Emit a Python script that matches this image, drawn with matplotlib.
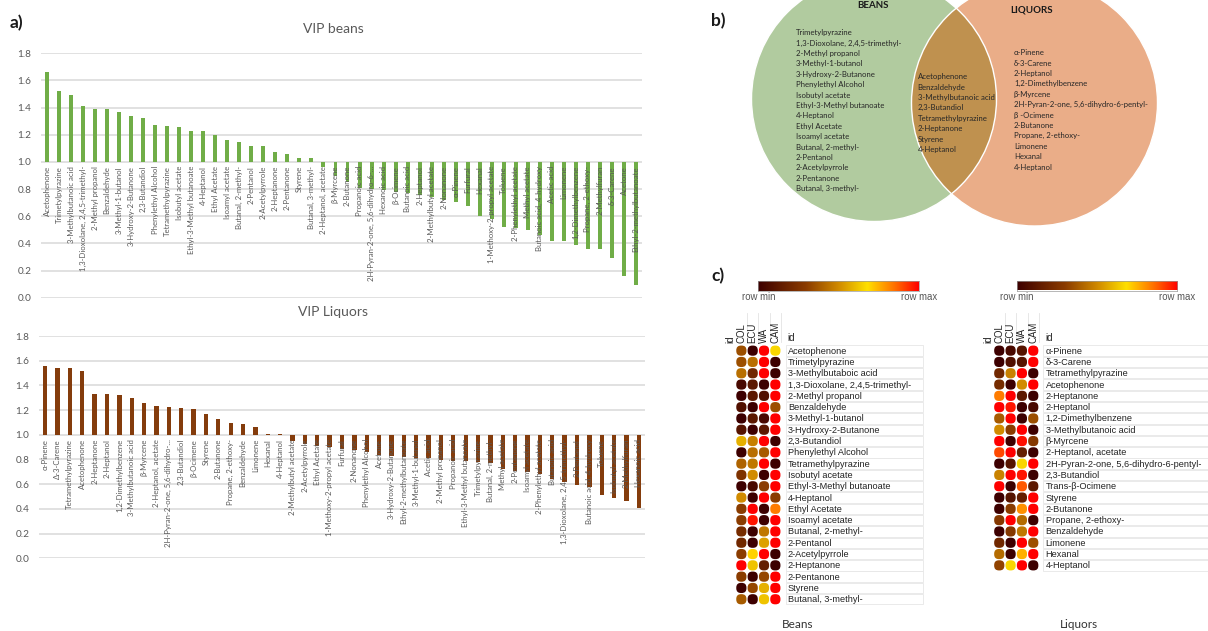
import numpy as np
import matplotlib
matplotlib.use('Agg')
import matplotlib.pyplot as plt
from matplotlib.patches import Circle, Rectangle, FancyBboxPatch
from matplotlib.colors import LinearSegmentedColormap

W, H, DPI = 1208, 631, 100

# ---- VIP scores, beans ----
beans_names = ['Acetophenone', 'Trimetylpyrazine', '3-Methylbutanoic acid', '1,3-Dioxolane, 2,4,5-trimethyl-',
               '2-Methyl propanol', 'Benzaldehyde', '3-Methyl-1-butanol', '3-Hydroxy-2-Butanone', '2,3-Butandiol',
               'Phenylethyl Alcohol', 'Tetramethylpyrazine', 'Isobutyl acetate', 'Ethyl-3-Methyl butanoate',
               '4-Heptanol', 'Ethyl Acetate', 'Isoamyl acetate', 'Butanal, 2-methyl-', '2-Pentanol',
               '2-Acetylpyrrole', '2-Heptanone', '2-Pentanone', 'Styrene', 'Butanal, 3-methyl-',
               '2-Heptanol, acetate', 'β-Myrcene', '2-Butanone', 'Propanoic acid', '2H-Pyran-2-one, 5,6-dihydro-6-...',
               'Hexanoic acid', 'β-Ocimene', 'Butanoic acid', '2-Heptanol', '2-Methylbutyl acetate', '2-Nonanone',
               'α-Pinene', 'Furfural', 'Hexanal', '1-Methoxy-2-propyl acetate', 'Toluene', '2-Phenylethyl acetate',
               'Methyl acetate', 'Butanoic acid, 4-hydroxy', 'Acetic acid', 'Limonene', '1,2-Dimethylbenzene',
               'Propane, 2-ethoxy-', '2-Methylfuran', 'δ-3-Carene', 'Acetone', 'Ethyl-2-methylbutanoate']
beans_vip = [1.66, 1.52, 1.49, 1.41, 1.39, 1.39, 1.37, 1.34, 1.32, 1.27, 1.265, 1.26, 1.23, 1.225, 1.195,
             1.165, 1.145, 1.12, 1.115, 1.07, 1.06, 1.03, 1.03,
             0.96, 0.90, 0.85, 0.81, 0.80, 0.79, 0.78, 0.77, 0.76, 0.74, 0.72, 0.705, 0.675, 0.605, 0.58,
             0.52, 0.51, 0.495, 0.465, 0.42, 0.415, 0.385, 0.36, 0.355, 0.29, 0.16, 0.095]

# ---- VIP scores, liquors ----
liq_names = ['α-Pinene', 'Δ-3-Carene', 'Tetramethylpyrazine', 'Acetophenone', '2-Heptanone', '2-Heptanol',
             '1,2-Dimethylbenzene', '3-Methylbutanoic acid', 'β-Myrcene', '2-Heptanol, acetate',
             '2H-Pyran-2-one, 5,6-dihydro-...', '2,3-Butandiol', 'β-Ocimene', 'Styrene', '2-Butanone',
             'Propane, 2-ethoxy-', 'Benzaldehyde', 'Limonene', 'Hexanal', '4-Heptanol',
             '2-Methylbutyl acetate', '2-Acetylpyrrole', 'Ethyl Acetate', '1-Methoxy-2-propyl acetate',
             'Furfural', '2-Nonanone', 'Phenylethyl Alcohol', 'Acetone', '3-Hydroxy-2-Butanone',
             'Ethyl-2-methylbutanoate', '3-Methyl-1-butanol', 'Acetic acid', '2-Methyl propanol',
             'Propanoic acid', 'Ethyl-3-Methyl butanoate', 'Trimetylpyrazine', 'Butanal, 2-methyl-',
             'Methyl acetate', '2-Pentanone', 'Isoamyl acetate', '2-Phenylethyl acetate', 'Butanoic acid',
             '1,3-Dioxolane, 2,4,5-trimethyl-', '2-Pentanol', 'Butanoic acid, 4-hydroxy', 'Toluene',
             'Isobutyl acetate', '2-Methylfuran', 'Hexanoic acid']
liq_vip = [1.558, 1.544, 1.539, 1.517, 1.329, 1.329, 1.32, 1.30, 1.26, 1.23, 1.224, 1.218, 1.21, 1.17,
           1.13, 1.097, 1.086, 1.065, 1.008, 1.01,
           0.946, 0.927, 0.91, 0.898, 0.887, 0.879, 0.857, 0.838, 0.825, 0.817, 0.814, 0.814, 0.798,
           0.79, 0.79, 0.78, 0.77, 0.72, 0.71, 0.70, 0.68, 0.645, 0.615, 0.597, 0.58, 0.51, 0.49, 0.46, 0.405]

# ---- Venn lists ----
venn_beans = ['Trimetylpyrazine', '1,3-Dioxolane, 2,4,5-trimethyl-', '2-Methyl propanol', '3-Methyl-1-butanol',
              '3-Hydroxy-2-Butanone', 'Phenylethyl Alcohol', 'Isobutyl acetate', 'Ethyl-3-Methyl butanoate',
              '4-Heptanol', 'Ethyl Acetate', 'Isoamyl acetate', 'Butanal, 2-methyl-', '2-Pentanol',
              '2-Acetylpyrrole', '2-Pentanone', 'Butanal, 3-methyl-']
venn_both = ['Acetophenone', 'Benzaldehyde', '3-Methylbutanoic acid', '2,3-Butandiol', 'Tetramethylpyrazine',
             '2-Heptanone', 'Styrene', '4-Heptanol']
venn_liq = ['α-Pinene', 'δ-3-Carene', '2-Heptanol', '1,2-Dimethylbenzene', 'β-Myrcene',
            '2H-Pyran-2-one, 5,6-dihydro-6-pentyl-', 'β -Ocimene', '2-Butanone', 'Propane, 2-ethoxy-',
            'Limonene', 'Hexanal', '4-Heptanol']

# ---- heatmaps (row-scaled, 0 = row min, 1 = row max) ----
hm_cols = ['COL', 'ECU', 'WA', 'CAM']
hm_beans_rows = ['Acetophenone', 'Trimetylpyrazine', '3-Methylbutaboic acid', '1,3-Dioxolane, 2,4,5-trimethyl-',
                 '2-Methyl propanol', 'Benzaldehyde', '3-Methyl-1-butanol', '3-Hydroxy-2-Butanone',
                 '2,3-Butandiol', 'Phenylethyl Alcohol', 'Tetramethylpyrazine', 'Isobutyl acetate',
                 'Ethyl-3-Methyl butanoate', '4-Heptanol', 'Ethyl Acetate', 'Isoamyl acetate',
                 'Butanal, 2-methyl-', '2-Pentanol', '2-Acetylpyrrole', '2-Heptanone', '2-Pentanone',
                 'Styrene', 'Butanal, 3-methyl-']
hm_beans = [[0.35, 0.0, 1.0, 0.66], [0.35, 0.43, 1.0, 0.0], [0.43, 0.2, 1.0, 0.0], [0.05, 0.12, 0.0, 1.0],
            [0.0, 0.12, 0.08, 1.0], [0.08, 0.0, 1.0, 0.35], [0.0, 0.12, 0.05, 1.0], [0.1, 0.0, 0.12, 1.0],
            [0.58, 0.47, 1.0, 0.0], [0.0, 0.43, 0.38, 1.0], [0.4, 0.45, 1.0, 0.0], [0.25, 0.5, 0.0, 1.0],
            [0.0, 0.05, 0.3, 1.0], [0.5, 0.0, 1.0, 0.3], [0.3, 1.0, 0.0, 0.83], [0.3, 0.97, 0.0, 1.0],
            [0.22, 0.0, 0.45, 1.0], [0.2, 0.0, 0.55, 1.0], [0.3, 0.7, 1.0, 0.0], [1.0, 0.62, 0.15, 0.0],
            [0.3, 0.0, 0.33, 1.0], [0.0, 0.33, 0.58, 1.0], [0.38, 0.0, 0.62, 1.0]]
hm_liq_rows = ['α-Pinene', 'δ-3-Carene', 'Tetramethylpyrazine', 'Acetophenone', '2-Heptanone', '2-Heptanol',
               '1,2-Dimethylbenzene', '3-Methylbutanoic acid', 'β-Myrcene', '2-Heptanol, acetate',
               '2H-Pyran-2-one, 5,6-dihydro-6-pentyl-', '2,3-Butandiol', 'Trans-β-Ocimene', 'Styrene',
               '2-Butanone', 'Propane, 2-ethoxy-', 'Benzaldehyde', 'Limonene', 'Hexanal', '4-Heptanol']
hm_liq = [[0.0, 0.05, 0.1, 1.0], [0.0, 0.08, 0.1, 1.0], [0.2, 0.48, 1.0, 0.0], [0.22, 0.0, 0.5, 1.0],
          [0.83, 1.0, 0.12, 0.0], [1.0, 0.97, 0.0, 0.05], [0.38, 1.0, 0.0, 0.35], [0.5, 0.3, 1.0, 0.0],
          [1.0, 0.0, 0.98, 0.28], [0.9, 1.0, 0.15, 0.0], [0.0, 0.1, 0.66, 1.0], [0.48, 1.0, 0.97, 0.0],
          [1.0, 0.0, 0.88, 0.12], [0.0, 0.1, 0.15, 1.0], [0.0, 0.3, 0.8, 1.0], [0.28, 1.0, 0.42, 0.0],
          [0.0, 0.28, 0.45, 1.0], [0.2, 0.0, 1.0, 0.35], [0.42, 0.0, 0.75, 1.0], [0.32, 0.66, 1.0, 0.0]]

row_cmap = LinearSegmentedColormap.from_list(
    'rowscale', [(0, '#3d0000'), (0.3, '#8b3c00'), (0.5, '#d08a00'), (0.68, '#ffe000'),
                 (0.85, '#ff7000'), (1, '#ff0000')])

plt.rcParams['font.family'] = ['Lato', 'DejaVu Sans']


def box(x0, y0, x1, y1):
    # pixel box (top-left origin) -> figure fraction rect
    return [x0 / W, 1 - y1 / H, (x1 - x0) / W, (y1 - y0) / H]


fig = plt.figure(figsize=(W / DPI, H / DPI), dpi=DPI)


def vip_chart(rect, names, vals, color, width, title, title_pos):
    ax = fig.add_axes(box(*rect))
    x = np.arange(len(vals))
    v = np.asarray(vals)
    ax.bar(x, v - 1.0, bottom=1.0, width=width, color=color, zorder=2)
    ax.set_xlim(-0.5, len(vals) - 0.5)
    ax.set_ylim(0, 1.8)
    ticks = np.round(np.arange(0, 1.81, 0.2), 1)
    ax.set_yticks(ticks)
    ax.set_yticklabels(['%.1f' % t for t in ticks])
    ax.yaxis.grid(True, color='#d9d9d9', lw=1.1, zorder=0)
    ax.set_axisbelow(True)
    ax.tick_params(axis='y', length=0, labelsize=7.2, labelcolor='#595959', pad=7)
    ax.set_xticks([])
    for s in ax.spines.values():
        s.set_visible(False)
    for i, n in enumerate(names):
        ax.annotate(n, (i, 1.0), xytext=(0, -3), textcoords='offset points', rotation=90,
                    ha='center', va='top', fontsize=5.6, color='#595959', zorder=3)
    fig.text(title_pos[0] / W, 1 - title_pos[1] / H, title, ha='center', va='center',
             fontsize=10, color='#595959')
    return ax


vip_chart((41, 53.3, 642, 297.7), beans_names, beans_vip, '#70ad47', 0.33, 'VIP beans', (333, 29))
vip_chart((39, 336, 645, 558.3), liq_names, liq_vip, '#843c0c', 0.35, 'VIP Liquors', (333, 312))

# ---- Venn ----
vax = fig.add_axes(box(700, 0, 1208, 260))
vax.set_xlim(700, 1208)
vax.set_ylim(260, 0)
vax.axis('off')
c_beans = Circle((874, 99), 122.5, facecolor='#b1cb9f', edgecolor='none', zorder=1)
c_liq = Circle((1034.5, 103), 123, facecolor='#eaad88', edgecolor='none', zorder=1)
vax.add_patch(c_beans)
vax.add_patch(c_liq)
c_mid = Circle((874, 99), 122.5, facecolor='#bf914f', edgecolor='none', zorder=2)
vax.add_patch(c_mid)
c_mid.set_clip_path(c_liq)
for c, r in [((874, 99), 122.5), ((1034.5, 103), 123)]:
    vax.add_patch(Circle(c, r, facecolor='none', edgecolor='white', lw=1, zorder=3))

vax.text(873, 6, 'BEANS', ha='center', va='center', fontsize=7, fontweight='bold', color='#1a1a1a', zorder=4)
vax.text(1032, 10, 'LIQUORS', ha='center', va='center', fontsize=7, fontweight='bold', color='#1a1a1a', zorder=4)
for items, x0, y0 in [(venn_beans, 795.7, 32.7), (venn_both, 917.7, 76.7), (venn_liq, 1014, 52.7)]:
    for k, s in enumerate(items):
        vax.text(x0, y0 + k * 10.4, s, ha='left', va='center', fontsize=5.6, color='#262626', zorder=4)


# ---- heatmaps ----
def heatmap(rect, rows, vals, cbar_rect, caption, caption_x):
    n = len(rows)
    x0, y0, x1, y1 = rect
    step = 11.33
    xr = (x1 - x0) / step - 0.5
    ax = fig.add_axes(box(x0, y0, x1, y0 + n * 11.3))
    ax.set_xlim(-0.5, xr)
    ax.set_ylim(n - 0.5, -0.5)
    ax.axis('off')
    v = np.asarray(vals)
    for i in range(n):
        ax.add_patch(Rectangle((3.9, i - 0.46), xr - 3.9, 0.92, facecolor='white',
                               edgecolor='#e6e6e6', lw=0.6, clip_on=False))
        ax.text(4.1, i + 0.04, rows[i], ha='left', va='center', fontsize=6.6,
                family='Liberation Sans', color='#222222')
        for j in range(len(hm_cols)):
            ax.add_patch(FancyBboxPatch((j - 0.45, i - 0.45), 0.9, 0.9,
                                        boxstyle='round,pad=0,rounding_size=0.42',
                                        facecolor=row_cmap(v[i, j]), edgecolor='none'))
    for j, c in enumerate(hm_cols):
        ax.text(j, -0.72, c, rotation=90, ha='center', va='bottom', fontsize=6.9,
                family='Liberation Sans', color='#222222', clip_on=False)
        ax.plot([j + 0.5, j + 0.5], [-0.78, -3.35], color='#e3e3e3', lw=0.6, clip_on=False)
    ax.text(-0.95, -0.72, 'id', rotation=90, ha='center', va='bottom', fontsize=6.9,
            family='Liberation Sans', color='#222222', clip_on=False)
    ax.text(4.05, -0.68, 'id', ha='left', va='bottom', fontsize=6.9,
            family='Liberation Sans', color='#222222', clip_on=False)

    cax = fig.add_axes(box(*cbar_rect))
    cax.imshow(np.linspace(0, 1, 256)[None, :], aspect='auto', cmap=row_cmap)
    cax.set_xticks([])
    cax.set_yticks([])
    for s in cax.spines.values():
        s.set_color('#9a9a9a')
        s.set_linewidth(0.5)
    fig.text(cbar_rect[0] / W, 1 - 296.5 / H, 'row min', ha='center', va='center', fontsize=6.9,
             family='Liberation Sans', color='#555555')
    fig.text(cbar_rect[2] / W, 1 - 296.5 / H, 'row max', ha='center', va='center', fontsize=6.9,
             family='Liberation Sans', color='#555555')
    fig.text(caption_x / W, 1 - 625 / H, caption, ha='center', va='center', fontsize=8.5, color='#333333')


heatmap((735.7, 345, 922.7, 605), hm_beans_rows, hm_beans, (758.3, 281, 919.3, 290.7), 'Beans', 798)
heatmap((993.6, 345, 1208, 571), hm_liq_rows, hm_liq, (1016.7, 281, 1177.3, 290.5), 'Liquors', 1079)

# panel letters
for s, x, y in [('a)', 10, 23), ('b)', 711, 21), ('c)', 711, 276)]:
    fig.text(x / W, 1 - y / H, s, ha='left', va='center', fontsize=12.5, fontweight='bold', color='#1a1a1a')

fig.savefig('out.png', dpi=DPI)
